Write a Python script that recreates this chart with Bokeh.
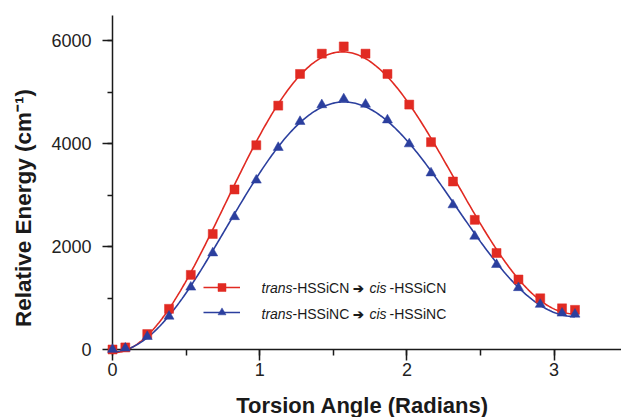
import numpy as np
from bokeh.plotting import figure
from bokeh.models import Range1d, SingleIntervalTicker, Label, Legend, LegendItem
from bokeh.embed import file_html
from bokeh.resources import INLINE

# ---- data ----
angle = [0.000, 0.087, 0.236, 0.384, 0.532, 0.681, 0.829, 0.977, 1.126, 1.274, 1.422, 1.571,
         1.719, 1.868, 2.016, 2.164, 2.313, 2.461, 2.609, 2.758, 2.906, 3.054, 3.142]
e_sicn = [0, 40, 300, 790, 1450, 2245, 3110, 3970, 4740, 5355, 5750, 5890,
          5750, 5355, 4760, 4030, 3265, 2520, 1875, 1360, 995, 800, 770]
e_sinc = [0, 25, 250, 645, 1210, 1875, 2580, 3290, 3925, 4430, 4755, 4870,
          4765, 4460, 3995, 3430, 2810, 2200, 1650, 1200, 875, 705, 685]
x_ticks_interval = 1
y_ticks_interval = 2000
x_axis_max = 3.458
y_axis_max = 6492
x_title = "Torsion Angle (Radians)"
y_title = "Relative Energy (cm\u207b\u00b9)"

RED = "#e12a22"
BLUE = "#2b3f9e"
AXC = "#1a1a1a"
FONT = "Liberation Sans"


def cos_fit(x, y, n=4):
    x = np.asarray(x, float)
    y = np.asarray(y, float)
    A = np.column_stack([np.cos(k * x) for k in range(n)])
    coef, *_ = np.linalg.lstsq(A, y, rcond=None)
    xs = np.linspace(x.min(), x.max(), 300)
    ys = np.column_stack([np.cos(k * xs) for k in range(n)]) @ coef
    return xs, ys


# frame covers the whole canvas; axes cross at the data origin
p = figure(width=621, height=417, output_backend="svg", toolbar_location=None,
           x_range=Range1d(-0.7609, x_axis_max), y_range=Range1d(-1322, 6783),
           min_border_left=0, min_border_right=0, min_border_top=0, min_border_bottom=0)
p.background_fill_color = "white"
p.border_fill_color = "white"
p.outline_line_color = None
p.xgrid.visible = False
p.ygrid.visible = False

xs_r, ys_r = cos_fit(angle, e_sicn)
xs_b, ys_b = cos_fit(angle, e_sinc)

lr = p.line(xs_r, ys_r, line_color=RED, line_width=1.6)
sr = p.scatter(angle, e_sicn, marker="square", size=9, fill_color=RED, line_color=RED,
               line_width=0.5, level="overlay")
lb = p.line(xs_b, ys_b, line_color=BLUE, line_width=1.6)
sb = p.scatter(angle, e_sinc, marker="triangle", size=10, fill_color=BLUE, line_color=BLUE,
               line_width=0.5, level="overlay")

for ax in (p.xaxis[0], p.yaxis[0]):
    ax.fixed_location = 0
    ax.axis_line_color = AXC
    ax.axis_line_width = 1.5
    ax.major_tick_line_color = AXC
    ax.major_tick_line_width = 1.5
    ax.minor_tick_line_color = AXC
    ax.minor_tick_line_width = 1.5
    ax.major_tick_in = 0
    ax.minor_tick_in = 0
    ax.major_label_text_font = FONT
    ax.major_label_text_font_size = "18px"
    ax.major_label_text_color = "#222222"

p.xaxis[0].bounds = (0, x_axis_max)
p.yaxis[0].bounds = (0, y_axis_max)
p.xaxis[0].ticker = SingleIntervalTicker(interval=x_ticks_interval, num_minor_ticks=2)
p.yaxis[0].ticker = SingleIntervalTicker(interval=y_ticks_interval, num_minor_ticks=2)
p.xaxis[0].major_tick_out = 11
p.xaxis[0].minor_tick_out = 6
p.yaxis[0].major_tick_out = 10
p.yaxis[0].minor_tick_out = 5
p.xaxis[0].major_label_standoff = 3
p.yaxis[0].major_label_standoff = 11

# axis titles (screen units: canvas, y measured upward from the bottom)
p.add_layout(Label(x=362, y=12, x_units="screen", y_units="screen", text=x_title,
                   text_font=FONT, text_font_size="22px", text_font_style="bold",
                   text_color="#1a1a1a", text_align="center", text_baseline="alphabetic"))
p.add_layout(Label(x=23, y=209.5, x_units="screen", y_units="screen", text=y_title,
                   angle=np.pi / 2, text_font=FONT, text_font_size="22.5px", text_font_style="bold",
                   text_color="#1a1a1a", text_align="center", text_baseline="alphabetic"))

# legend glyphs
legend = Legend(items=[LegendItem(label=" ", renderers=[lr, sr]),
                       LegendItem(label=" ", renderers=[lb, sb])],
                location=(203, 95), border_line_color=None, background_fill_alpha=0,
                padding=0, margin=0, spacing=5, glyph_width=37, glyph_height=20,
                label_height=20, label_standoff=0, label_width=0)
p.add_layout(legend)

# legend texts with mixed styles
rows = [(129.5, "HSSiCN"), (103.5, "HSSiNC")]
for yb, mol in rows:
    parts = [(261, "trans", "italic", "14px"), (292, "-" + mol, "normal", "14px"),
             (352, "\u2794", "bold", "13px"), (369, "cis", "italic", "14px"),
             (389, "-" + mol, "normal", "14px")]
    for xp, txt, st, fs in parts:
        p.add_layout(Label(x=xp, y=yb, x_units="screen", y_units="screen", text=txt,
                           text_font=FONT, text_font_size=fs, text_font_style=st,
                           text_color="#1a1a1a", text_align="left", text_baseline="alphabetic"))

open("out.html", "w").write(file_html(p, INLINE))
